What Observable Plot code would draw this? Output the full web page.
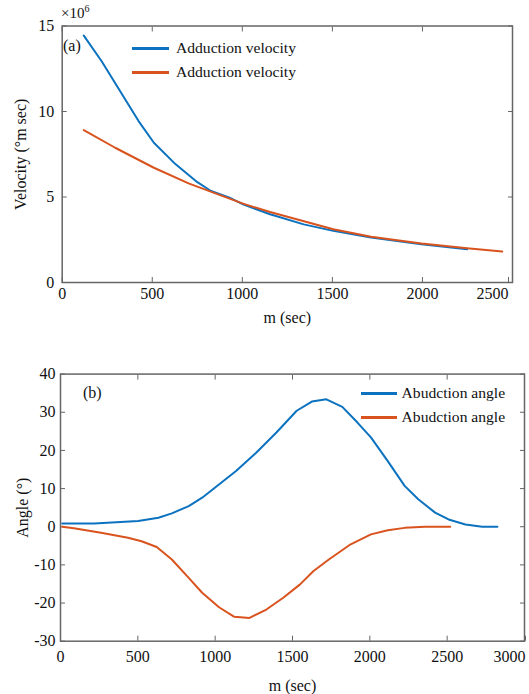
<!DOCTYPE html>
<html><head><meta charset="utf-8">
<script src="https://cdn.jsdelivr.net/npm/d3@7"></script>
<script src="https://cdn.jsdelivr.net/npm/@observablehq/plot@0.6"></script>
<style>
body{margin:0;background:#fff;}
#wrap{position:relative;width:529px;height:694px;font-family:"Liberation Serif","Times New Roman",serif;color:#111;}
#wrap svg{position:absolute;left:0;}
#wrap svg text{font-family:"Liberation Serif","Times New Roman",serif !important;}
.abs{position:absolute;white-space:nowrap;line-height:1;}
.leg{position:absolute;height:3px;}
.legt{position:absolute;font-size:15.6px;line-height:1;white-space:nowrap;transform:translateY(-50%);}
sup{font-size:10px;vertical-align:6px;}
</style></head><body><div id="wrap"></div>
<script>
// ---------- data ----------
const velBlueM   = [120, 219, 424, 509, 630, 742, 826, 929, 1004, 1154, 1341, 1505, 1715, 1995, 2248];
const velBlueV   = [14.44, 12.94, 9.44, 8.17, 6.91, 5.93, 5.35, 4.96, 4.57, 3.99, 3.40, 3.02, 2.63, 2.24, 1.95];
const velOrangeM = [120, 294, 509, 705, 1004, 1154, 1505, 1715, 1995, 2248, 2443];
const velOrangeV = [8.91, 7.88, 6.71, 5.78, 4.61, 4.12, 3.11, 2.68, 2.28, 2.00, 1.81];

const angBlueM   = [11, 218, 502, 633, 720, 829, 916, 1004, 1135, 1265, 1396, 1527, 1625, 1719, 1822, 1920, 2007, 2116, 2225, 2313, 2422, 2509, 2618, 2727, 2825];
const angBlueV   = [0.87, 0.87, 1.49, 2.36, 3.5, 5.42, 7.61, 10.41, 14.6, 19.4, 24.7, 30.4, 32.8, 33.4, 31.4, 27.3, 23.4, 17.2, 10.7, 7.2, 3.7, 1.9, 0.6, 0, 0];
const angOrangeM = [11, 87, 262, 436, 524, 622, 720, 829, 916, 1025, 1124, 1222, 1331, 1440, 1549, 1636, 1735, 1876, 2007, 2116, 2225, 2356, 2520];
const angOrangeV = [0, -0.4, -1.6, -2.9, -3.8, -5.3, -8.6, -13.4, -17.3, -21.1, -23.6, -23.9, -21.7, -18.6, -15.1, -11.6, -8.6, -4.6, -2.0, -0.9, -0.3, 0, 0];

const velXTicks = [0, 500, 1000, 1500, 2000, 2500];
const velYTicks = [0, 5, 10, 15];
const angXTicks = [0, 500, 1000, 1500, 2000, 2500, 3000];
const angYTicks = [-30, -20, -10, 0, 10, 20, 30, 40];

const velLegend = ["Adduction velocity", "Adduction velocity"];
const angLegend = ["Abudction angle", "Abudction angle"];
const xLabel = "m (sec)";
const velYLabel = "Velocity (°m sec)";
const angYLabel = "Angle (°)";

// ---------- build ----------
const BLUE = "#0b72bf", ORANGE = "#d9531e", AXIS = "#666";
const FONT = '"Liberation Serif","Times New Roman",serif';
const fmt = d => String(d);
const blank = () => "";
const toRows = (ms, vs) => ms.map((m, i) => ({m, v: vs[i]}));
const wrap = document.getElementById("wrap");

function panel({height, top, margins, xDomain, yDomain, xTicks, yTicks, yLabel, series, xPad, yPad, xLabelOffset, yLabelOffset, lastDx}) {
  const txt = {fontFamily: FONT, fontSize: 16, fill: "#111"};
  const svg = Plot.plot({
    width: 529, height,
    marginTop: margins[0], marginRight: margins[1], marginBottom: margins[2], marginLeft: margins[3],
    style: {fontFamily: FONT, fontSize: "16px", color: "#111", background: "transparent", overflow: "visible"},
    x: {domain: xDomain},
    y: {domain: yDomain},
    marks: [
      Plot.axisX(xTicks.slice(0, -1), {anchor: "bottom", tickSize: -5, tickPadding: xPad, stroke: AXIS, tickFormat: fmt, label: xLabel, labelAnchor: "center", labelArrow: "none", labelOffset: xLabelOffset, ...txt}),
      Plot.axisX(xTicks.slice(-1), {anchor: "bottom", tickSize: -5, tickPadding: xPad, stroke: AXIS, tickFormat: fmt, textAnchor: "end", dx: lastDx, label: null, ...txt}),
      Plot.axisX(xTicks, {anchor: "top", tickSize: -5, tickFormat: blank, stroke: AXIS, label: null}),
      Plot.axisY(yTicks, {anchor: "left", tickSize: -5, tickPadding: yPad, stroke: AXIS, tickFormat: fmt, label: yLabel, labelAnchor: "center", labelArrow: "none", labelOffset: yLabelOffset, ...txt}),
      Plot.axisY(yTicks, {anchor: "right", tickSize: -5, tickFormat: blank, stroke: AXIS, label: null}),
      Plot.frame({stroke: AXIS, strokeWidth: 1.5}),
      ...series.map(s => Plot.line(s.rows, {x: "m", y: "v", stroke: s.color, strokeWidth: 2}))
    ]
  });
  svg.style.top = top + "px";
  wrap.appendChild(svg);
}

panel({
  height: 330, top: 0, margins: [25.5, 17, 48, 61.7],
  xDomain: [0, 2500], yDomain: [0, 15], xTicks: velXTicks, yTicks: velYTicks, yLabel: velYLabel,
  xPad: 10, yPad: 13, xLabelOffset: 40, yLabelOffset: 48, lastDx: -4,
  series: [{rows: toRows(velBlueM, velBlueV), color: BLUE}, {rows: toRows(velOrangeM, velOrangeV), color: ORANGE}]
});
panel({
  height: 364, top: 330, margins: [43.6, 5, 53.3, 60],
  xDomain: [0, 3000], yDomain: [-30, 40], xTicks: angXTicks, yTicks: angYTicks, yLabel: angYLabel,
  xPad: 14, yPad: 10, xLabelOffset: 50, yLabelOffset: 44, lastDx: 1,
  series: [{rows: toRows(angBlueM, angBlueV), color: BLUE}, {rows: toRows(angOrangeM, angOrangeV), color: ORANGE}]
});

// overlay text (panel tags, exponent, legends)
function addText(html, left, top, size, cls = "abs") {
  const d = document.createElement("div");
  d.className = cls; d.innerHTML = html;
  d.style.left = left + "px"; d.style.top = top + "px"; d.style.fontSize = size + "px";
  wrap.appendChild(d);
}
function addLegend(labels, colors, x0, x1, ys, tx) {
  labels.forEach((lab, i) => {
    const l = document.createElement("div");
    l.className = "leg"; l.style.background = colors[i];
    l.style.left = x0 + "px"; l.style.width = (x1 - x0) + "px"; l.style.top = (ys[i] - 1.5) + "px";
    wrap.appendChild(l);
    const t = document.createElement("div");
    t.className = "legt"; t.textContent = lab;
    t.style.left = tx + "px"; t.style.top = ys[i] + "px";
    wrap.appendChild(t);
  });
}
addText("×10<sup>6</sup>", 61, 4, 15);
addText("(a)", 63, 38, 16);
addText("(b)", 83, 385, 16);
addLegend(velLegend, [BLUE, ORANGE], 132, 168.6, [48, 72], 176);
addLegend(angLegend, [BLUE, ORANGE], 361, 396.5, [393, 417], 401.6);
</script></body></html>
